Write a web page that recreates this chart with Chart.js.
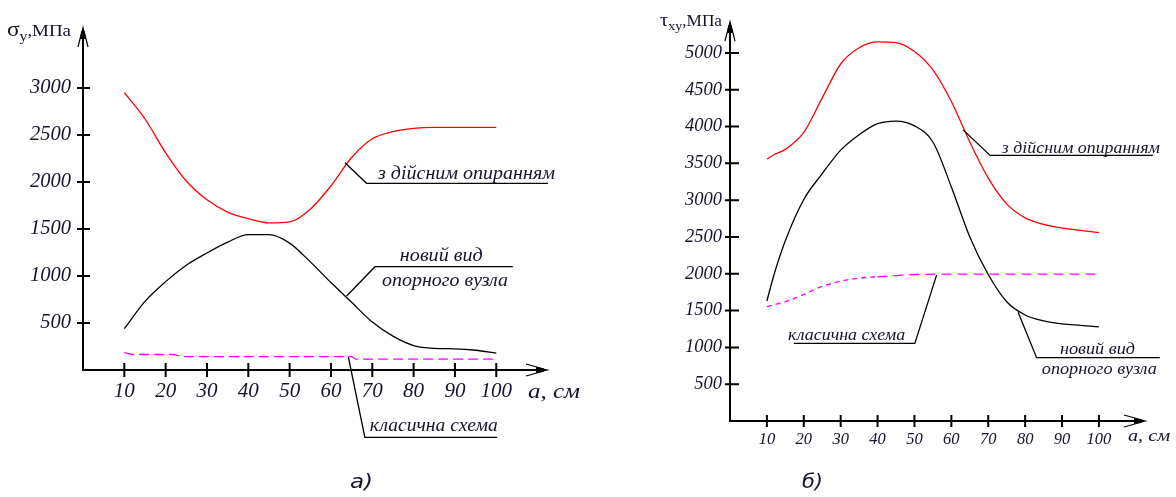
<!DOCTYPE html>
<html><head><meta charset="utf-8">
<script src="https://cdn.jsdelivr.net/npm/chart.js@4/dist/chart.umd.min.js"></script>
<style>
html,body{margin:0;padding:0;background:#fff;width:1176px;height:497px;overflow:hidden}
#cA{position:absolute;left:0;top:0}
#cB{position:absolute;left:600px;top:0}
</style></head><body>
<canvas id="cA" width="600" height="497"></canvas>
<canvas id="cB" width="576" height="497"></canvas>
<script>
// ---- data: chart а) normal stress σy, MPa ----
const xA = [10,15,20,25,30,35,40,45,50,55,60,65,70,75,80,85,90,95,100];
const sigmaReal = [2950,2670,2310,2010,1810,1680,1610,1565,1575,1710,1960,2260,2460,2535,2570,2580,2580,2580,2580];
const sigmaNew  = [440,730,940,1115,1245,1360,1440,1440,1350,1150,930,720,510,360,260,230,225,210,180];
const xAClassic = [10,12,22,24,65,66,100];
const sigmaClassic = [185,165,165,142,142,115,115];
const yTicksA = [500,1000,1500,2000,2500,3000];

// ---- data: chart б) shear stress τxy, MPa ----
const xB = [10,12,15,20,25,30,35,40,45,50,55,60,65,70,75,80,85,90,95,100];
const tauReal = [3560,3620,3690,3920,4390,4850,5070,5150,5140,5020,4770,4340,3790,3300,2950,2760,2670,2620,2590,2560];
const tauNew  = [1630,2000,2450,3010,3360,3680,3890,4040,4075,4010,3790,3180,2500,1990,1620,1440,1360,1320,1300,1280];
const xBClassic = [10,15,20,25,30,35,40,45,50,60,70,80,90,100];
const tauClassic = [1555,1620,1720,1830,1900,1940,1960,1975,1990,1995,1995,1995,1995,1995];
const yTicksB = [500,1000,1500,2000,2500,3000,3500,4000,4500,5000];

const xTicks = [10,20,30,40,50,60,70,80,90,100];

const pts = (xs, ys) => xs.map((x, i) => ({x, y: ys[i]}));
const INK = '#14142a';

function fitText(ctx, text, cx, cy, w, font, align) {
  ctx.save();
  ctx.font = font;
  const m = ctx.measureText(text).width;
  const sx = w / m;
  ctx.translate(cx, cy);
  ctx.scale(sx, 1);
  ctx.textAlign = align || 'center';
  ctx.textBaseline = 'middle';
  ctx.fillText(text, 0, 0);
  ctx.restore();
}

function makePlugin(o) {
  return {
    id: 'decor' + o.id,
    afterDraw(chart) {
      const ctx = chart.ctx, xs = chart.scales.x, ys = chart.scales.y, ca = chart.chartArea;
      const ox = xs.getPixelForValue(0), oy = ys.getPixelForValue(0);
      const P = (x, y) => [xs.getPixelForValue(x), ys.getPixelForValue(y)];
      ctx.save();
      ctx.strokeStyle = '#000'; ctx.fillStyle = '#000';
      ctx.lineWidth = 2;
      ctx.beginPath();
      ctx.moveTo(ox, ca.top + 4); ctx.lineTo(ox, oy); ctx.lineTo(ca.right - 4, oy);
      ctx.stroke();
      ctx.beginPath();
      ctx.moveTo(ox, ca.top); ctx.lineTo(ox - 3, ca.top + 14); ctx.lineTo(ox + 3, ca.top + 14); ctx.closePath(); ctx.fill();
      ctx.lineWidth = 1.2;
      ctx.beginPath();
      ctx.moveTo(ox - 1, ca.top + 6); ctx.lineTo(ox - 5, ca.top + 22);
      ctx.moveTo(ox + 1, ca.top + 6); ctx.lineTo(ox + 5, ca.top + 22);
      ctx.stroke();
      ctx.beginPath();
      ctx.moveTo(ca.right, oy); ctx.lineTo(ca.right - 14, oy - 3); ctx.lineTo(ca.right - 14, oy + 3); ctx.closePath(); ctx.fill();
      ctx.beginPath();
      ctx.moveTo(ca.right - 6, oy - 1); ctx.lineTo(ca.right - 24, oy - 6);
      ctx.moveTo(ca.right - 6, oy + 1); ctx.lineTo(ca.right - 24, oy + 6);
      ctx.stroke();
      ctx.lineWidth = 2;
      ctx.beginPath();
      xs.ticks.forEach(t => { const px = xs.getPixelForValue(t.value); ctx.moveTo(px, oy - o.xt[0]); ctx.lineTo(px, oy + o.xt[1]); });
      ys.ticks.forEach(t => { const py = ys.getPixelForValue(t.value); ctx.moveTo(ox - o.yt[0], py); ctx.lineTo(ox + o.yt[1], py); });
      ctx.stroke();
      ctx.lineWidth = 1.3;
      ctx.fillStyle = INK;
      o.notes.forEach(n => {
        ctx.beginPath();
        n.path.forEach((p, i) => { const q = P(p[0], p[1]); i ? ctx.lineTo(q[0], q[1]) : ctx.moveTo(q[0], q[1]); });
        ctx.stroke();
        n.texts.forEach(t => { const q = P(t.x, t.y); fitText(ctx, t.s, q[0], q[1], t.w, 'italic ' + t.f + 'px "Liberation Serif"'); });
      });
      o.titles(ctx, ox, oy, ca);
      ctx.restore();
    }
  };
}

function drawParts(ctx, parts, xRight, base, width) {
  let tot = 0;
  parts.forEach(p => { ctx.font = p[1]; tot += ctx.measureText(p[0]).width; });
  const sx = width / tot;
  ctx.save();
  ctx.translate(xRight - width, base);
  ctx.scale(sx, 1);
  ctx.textAlign = 'left'; ctx.textBaseline = 'alphabetic';
  let x = 0;
  parts.forEach(p => { ctx.font = p[1]; ctx.fillText(p[0], x, p[2]); x += ctx.measureText(p[0]).width; });
  ctx.restore();
}

function makeChart(id, cfg) {
  return new Chart(document.getElementById(id), {
    type: 'line',
    data: { datasets: cfg.datasets },
    options: {
      responsive: false, animation: false, devicePixelRatio: 1,
      layout: { padding: cfg.pad },
      plugins: { legend: { display: false }, tooltip: { enabled: false } },
      elements: { point: { radius: 0 }, line: { borderWidth: 1.3, cubicInterpolationMode: 'monotone' } },
      scales: {
        x: {
          type: 'linear', min: 0, max: cfg.xmax,
          afterBuildTicks: s => { s.ticks = xTicks.map(v => ({value: v})); },
          afterFit: s => { s.height = cfg.xh; },
          grid: { display: false, drawTicks: false }, border: { display: false },
          ticks: { autoSkip: false, maxRotation: 0, padding: cfg.xpad, color: INK,
                   font: { family: 'Liberation Serif', style: 'italic', size: cfg.xfs }, callback: v => String(v) }
        },
        y: {
          type: 'linear', min: 0, max: cfg.ymax,
          afterBuildTicks: s => { s.ticks = cfg.yTicks.map(v => ({value: v})); },
          afterFit: s => { s.width = cfg.yw; },
          grid: { display: false, drawTicks: false }, border: { display: false },
          ticks: { autoSkip: false, padding: cfg.ypad, color: INK,
                   font: { family: 'Liberation Serif', style: 'italic', size: cfg.yfs }, callback: v => String(v) }
        }
      }
    },
    plugins: [cfg.plugin]
  });
}

makeChart('cA', {
  pad: { left: 0, right: 50, top: 25, bottom: 0 },
  xmax: 113, ymax: 3670, xh: 127, yw: 83, xpad: 9, ypad: 12, xfs: 21, yfs: 20.5,
  yTicks: yTicksA,
  datasets: [
    { data: pts(xA, sigmaReal), borderColor: '#ff0000' },
    { data: pts(xA, sigmaNew), borderColor: '#000000' },
    { data: pts(xAClassic, sigmaClassic), borderColor: '#ff00ff', borderDash: [10, 5], tension: 0, cubicInterpolationMode: 'default' }
  ],
  plugin: makePlugin({
    id: 'A', xt: [7, 7], yt: [6, 7],
    notes: [
      { path: [[63.4, 2205], [68.6, 1986], [112.5, 1986]], texts: [{ s: 'з дійсним опиранням', x: 92.8, y: 2085, w: 177, f: 19 }] },
      { path: [[63.8, 787], [70.65, 1099], [104, 1099]], texts: [
        { s: 'новий вид', x: 86.7, y: 1213, w: 83, f: 19 },
        { s: 'опорного вузла', x: 87.6, y: 947, w: 126, f: 19 }] },
      { path: [[64.2, 141], [68.2, -716], [100.2, -716]], texts: [{ s: 'класична схема', x: 84.9, y: -601, w: 128, f: 19 }] }
    ],
    titles(ctx, ox, oy, ca) {
      ctx.fillStyle = INK;
      drawParts(ctx, [['σ', '21px "Liberation Serif"', 0], ['y', '14px "Liberation Serif"', 5], [',МПа', '17px "Liberation Serif"', 0]], ox - 12, 36, 64);
      fitText(ctx, 'а, см', 528, 392, 52, 'italic 21px "Liberation Serif"', 'left');
      fitText(ctx, 'а)', 350, 483, 23, 'italic 20px "DejaVu Sans"', 'left');
    }
  })
});

makeChart('cB', {
  pad: { left: 0, right: 28, top: 17, bottom: 0 },
  xmax: 113.3, ymax: 5460, xh: 76, yw: 130, xpad: 9, ypad: 8, xfs: 16.5, yfs: 18.5,
  yTicks: yTicksB,
  datasets: [
    { data: pts(xB, tauReal), borderColor: '#ff0000' },
    { data: pts(xB, tauNew), borderColor: '#000000' },
    { data: pts(xBClassic, tauClassic), borderColor: '#ff00ff', borderDash: [9, 6],
      segment: { borderDash: c => (c.p0.parsed.x < 40 ? [5, 4] : [10, 6]) } }
  ],
  plugin: makePlugin({
    id: 'B', xt: [6, 6], yt: [5, 9],
    notes: [
      { path: [[63.2, 3955], [70.5, 3608], [114.6, 3608]], texts: [{ s: 'з дійсним опиранням', x: 95.1, y: 3703, w: 158, f: 17 }] },
      { path: [[78.1, 1477], [83.1, 861], [116.5, 861]], texts: [
        { s: 'новий вид', x: 99.6, y: 973, w: 75, f: 17 },
        { s: 'опорного вузла', x: 100.1, y: 703, w: 115, f: 17 }] },
      { path: [[56, 1982], [50.1, 1054], [17.3, 1054]], texts: [{ s: 'класична схема', x: 31.6, y: 1162, w: 117, f: 17 }] }
    ],
    titles(ctx, ox, oy, ca) {
      ctx.fillStyle = INK;
      drawParts(ctx, [['τ', '19px "Liberation Serif"', 0], ['xy', '13px "Liberation Serif"', 4], [',МПа', '16px "Liberation Serif"', 0]], ox - 8, 26, 62);
      fitText(ctx, 'а, см', 528, 437, 42, 'italic 16px "Liberation Serif"', 'left');
      fitText(ctx, 'б)', 202, 483, 21, 'italic 20px "DejaVu Sans"', 'left');
    }
  })
});
</script>
</body></html>
